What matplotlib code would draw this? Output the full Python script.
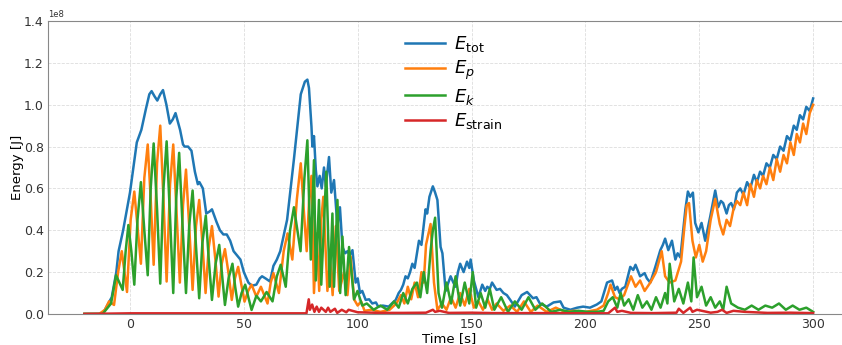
import matplotlib
matplotlib.use("Agg")
import matplotlib.pyplot as plt
import numpy as np

# (time [s], energy [1e8 J])
tot_pts = [(-20, 0), (-12, 0), (-10, 0.04), (-8, 0.08), (-6, 0.2), (-5, 0.3), (-3, 0.4), (-1, 0.52),
           (0, 0.58), (1.5, 0.7), (3, 0.82), (5, 0.88), (7, 0.98), (8.5, 1.05), (9.5, 1.065),
           (10.8, 1.04), (12, 1.02), (13.3, 1.05), (14.5, 1.07), (16, 1.0), (17.5, 0.91), (18.8, 0.93),
           (20, 0.96), (22, 0.88), (23.3, 0.81), (24, 0.80), (25.5, 0.80), (27, 0.78), (28.5, 0.68),
           (29.8, 0.62), (30.5, 0.63), (32, 0.6), (33.5, 0.48), (35, 0.49), (36, 0.5), (38, 0.44),
           (39.5, 0.40), (41, 0.38), (42.5, 0.38), (44, 0.35), (45.5, 0.3), (47, 0.28), (48.5, 0.26),
           (50, 0.2), (52, 0.15), (53.5, 0.135), (55.5, 0.14), (57, 0.17), (58, 0.18), (59.5, 0.17),
           (61.5, 0.155), (63, 0.23), (64.5, 0.26), (66, 0.3), (69, 0.45), (72, 0.74), (75, 1.05),
           (76.8, 1.11), (77.9, 1.12), (78.6, 1.08), (79.7, 0.895), (80.1, 0.80), (80.8, 0.85),
           (81.6, 0.69), (82.3, 0.61), (83.3, 0.66), (84.2, 0.60), (85.2, 0.70), (86, 0.61),
           (87.4, 0.75), (88.4, 0.58), (89.6, 0.64), (91.1, 0.42), (92.2, 0.51), (93.3, 0.32),
           (94.5, 0.29), (95.5, 0.30), (96.5, 0.28), (97.7, 0.305), (99.1, 0.15), (100, 0.17),
           (101, 0.10), (102, 0.11), (103.5, 0.067), (105, 0.07), (106.4, 0.05), (108, 0.055),
           (109, 0.035), (111, 0.04), (113.6, 0.035), (115, 0.05), (116.7, 0.067), (118, 0.1),
           (119, 0.115), (120, 0.14), (121, 0.18), (122, 0.17), (123, 0.2), (124, 0.24), (125, 0.22),
           (126.9, 0.35), (128, 0.33), (129.8, 0.50), (130.5, 0.48), (131.5, 0.56), (133, 0.61),
           (134, 0.58), (135, 0.545), (136.4, 0.32), (137.2, 0.29), (138.6, 0.11), (139.5, 0.14),
           (140.8, 0.18), (142, 0.15), (143, 0.13), (144, 0.2), (145, 0.24), (146.5, 0.2), (148, 0.25),
           (149, 0.22), (149.6, 0.26), (151, 0.16), (153, 0.08), (154.7, 0.14), (156, 0.11),
           (156.9, 0.13), (158, 0.12), (159, 0.15), (161, 0.115), (162.5, 0.12), (164, 0.10),
           (165.5, 0.09), (167, 0.067), (169, 0.035), (172, 0.09), (174.4, 0.105), (177, 0.075),
           (178.5, 0.08), (180, 0.05), (183, 0.035), (186, 0.055), (189, 0.06), (190.4, 0.03),
           (193.4, 0.02), (196.4, 0.03), (199, 0.035), (202, 0.03), (205, 0.045), (207, 0.06),
           (209.5, 0.15), (211.7, 0.16), (213, 0.115), (214, 0.13), (215, 0.10), (216, 0.12),
           (217.5, 0.13), (219.7, 0.225), (221, 0.21), (222, 0.235), (224, 0.18), (226, 0.195),
           (227, 0.17), (228.5, 0.15), (230.7, 0.225), (232.9, 0.305), (234, 0.33), (235, 0.36),
           (236.4, 0.305), (238, 0.35), (239.5, 0.26), (240.5, 0.29), (241.7, 0.27), (243.9, 0.50),
           (245, 0.585), (246, 0.56), (247.2, 0.58), (248.2, 0.435), (249.6, 0.39), (251, 0.435),
           (252.6, 0.35), (254.8, 0.465), (257, 0.59), (258.3, 0.51), (259.5, 0.54), (260.5, 0.53),
           (262, 0.48), (263, 0.52), (264, 0.53), (265.2, 0.5), (266.5, 0.58), (268, 0.60),
           (269.4, 0.57), (271, 0.63), (272.4, 0.60), (274, 0.665), (275.3, 0.63), (276.7, 0.68),
           (278, 0.66), (279.5, 0.72), (281, 0.70), (282.5, 0.76), (284, 0.74), (285.5, 0.80),
           (287, 0.78), (288.5, 0.85), (290, 0.83), (291.5, 0.90), (292.8, 0.88), (294.2, 0.95),
           (295.6, 0.93), (297, 0.99), (298.5, 0.97), (300, 1.03)]

p_pts = [(-20, 0), (-13.5, 0), (-11, 0.02), (-9.2, 0.06), (-7, 0.043), (-5.2, 0.2), (-3.6, 0.30),
         (-2.4, 0.2), (-1.3, 0.105), (0.3, 0.45), (1.9, 0.585), (3.3, 0.42), (4.8, 0.24), (6.3, 0.65),
         (7.8, 0.81), (9.1, 0.55), (10.4, 0.235), (11.9, 0.72), (13.3, 0.90), (14.7, 0.55),
         (16.1, 0.155), (17.6, 0.62), (19, 0.81), (20.4, 0.5), (21.9, 0.15), (23.3, 0.52),
         (24.6, 0.69), (26, 0.42), (27.5, 0.115), (29, 0.42), (30.4, 0.545), (31.8, 0.34),
         (33.2, 0.10), (34.6, 0.32), (36, 0.42), (37.5, 0.26), (38.9, 0.083), (40.3, 0.24),
         (41.7, 0.31), (43.2, 0.2), (44.7, 0.067), (46.1, 0.17), (47.5, 0.225), (48.9, 0.14),
         (50.3, 0.059), (51.9, 0.11), (53.4, 0.14), (55.5, 0.083), (57.5, 0.13), (60.4, 0.05),
         (61.8, 0.15), (63, 0.195), (65.4, 0.10), (67.5, 0.3), (69.2, 0.385), (71.3, 0.26),
         (73.3, 0.55), (75, 0.72), (76.3, 0.5), (77.6, 0.30), (78.7, 0.55), (79.7, 0.66), (80.8, 0.10),
         (82, 0.385), (83.1, 0.11), (84, 0.45), (84.9, 0.56), (86.7, 0.11), (87.9, 0.26), (89, 0.09),
         (90.4, 0.42), (91.9, 0.11), (94, 0.2), (95.5, 0.09), (96.9, 0.275), (98.4, 0.07),
         (100, 0.04), (101.5, 0.06), (103, 0.015), (106, 0.02), (110, 0.01), (114, 0.02), (117, 0.05),
         (119, 0.09), (120.5, 0.05), (122, 0.13), (123.5, 0.07), (125, 0.15), (126.5, 0.08),
         (128, 0.2), (129, 0.15), (130, 0.33), (131, 0.38), (132, 0.43), (133.5, 0.15), (135, 0.02),
         (137, 0.05), (139, 0.02), (141, 0.08), (143, 0.03), (145, 0.1), (147, 0.04), (149, 0.12),
         (151, 0.03), (153, 0.06), (155, 0.02), (157, 0.07), (159, 0.02), (161, 0.05), (164, 0.015),
         (167, 0.04), (170, 0.01), (173, 0.06), (176, 0.01), (179, 0.04), (183, 0.01), (187, 0.03),
         (191, 0.01), (195, 0.015), (200, 0.01), (205, 0.02), (208, 0.04), (210, 0.1), (211, 0.14),
         (213, 0.08), (215, 0.07), (217, 0.09), (219, 0.15), (220, 0.18), (222, 0.13), (224, 0.16),
         (226, 0.11), (228.5, 0.15), (231, 0.20), (233.5, 0.30), (235, 0.18), (237, 0.15),
         (239.5, 0.16), (242, 0.25), (243.5, 0.42), (244.5, 0.52), (245.5, 0.53), (247, 0.35),
         (248.5, 0.27), (250, 0.33), (251.5, 0.25), (253, 0.30), (255, 0.45), (257, 0.55),
         (259, 0.43), (260.5, 0.38), (262, 0.45), (263.5, 0.42), (265, 0.50), (266.5, 0.54),
         (268, 0.52), (269.4, 0.58), (271, 0.52), (272.4, 0.62), (274, 0.56), (275.3, 0.64),
         (276.7, 0.60), (278, 0.66), (279.5, 0.62), (281, 0.70), (282.5, 0.64), (284, 0.74),
         (285.5, 0.68), (287, 0.76), (288.5, 0.72), (290, 0.82), (291.5, 0.76), (292.8, 0.86),
         (294.2, 0.82), (295.6, 0.91), (297, 0.86), (298.5, 0.96), (300, 1.00)]

k_pts = [(-20, 0), (-12, 0), (-8.3, 0.05), (-6.1, 0.185), (-3.2, 0.115), (-1.9, 0.3), (-0.7, 0.425),
         (0.6, 0.3), (1.9, 0.14), (3.3, 0.45), (4.8, 0.63), (6.3, 0.4), (7.8, 0.185), (9.1, 0.6),
         (10.4, 0.815), (11.9, 0.5), (13.3, 0.145), (14.7, 0.6), (16.1, 0.825), (17.6, 0.46),
         (19, 0.10), (20.3, 0.55), (21.6, 0.77), (23.1, 0.42), (24.6, 0.10), (26, 0.42), (27.5, 0.59),
         (29, 0.32), (30.4, 0.075), (31.8, 0.34), (33.3, 0.47), (34.6, 0.26), (36, 0.067),
         (37.6, 0.24), (39.2, 0.33), (40.5, 0.18), (41.7, 0.043), (43.3, 0.17), (45, 0.24),
         (46.2, 0.13), (47.5, 0.035), (49, 0.1), (50.6, 0.14), (53.4, 0.019), (55.5, 0.087),
         (57.5, 0.06), (60, 0.105), (62.6, 0.06), (64.5, 0.18), (66.2, 0.235), (68.4, 0.13),
         (70.3, 0.4), (72, 0.51), (74.9, 0.30), (76.6, 0.65), (77.9, 0.83), (79.4, 0.26),
         (80.8, 0.735), (81.6, 0.16), (83, 0.545), (84, 0.14), (86.2, 0.68), (87.7, 0.13),
         (88.9, 0.48), (89.6, 0.13), (91.1, 0.545), (92.3, 0.10), (93.3, 0.37), (94.7, 0.09),
         (96.2, 0.32), (98.4, 0.07), (99.9, 0.11), (102, 0.04), (104, 0.05), (107, 0.02), (110, 0.04),
         (113, 0.02), (116, 0.06), (118, 0.03), (120, 0.1), (122, 0.05), (124, 0.12), (126, 0.15),
         (127.5, 0.08), (129, 0.2), (130.5, 0.1), (132, 0.3), (133, 0.4), (134, 0.46), (135.5, 0.1),
         (137, 0.03), (139, 0.15), (141, 0.05), (143, 0.18), (145, 0.04), (147, 0.15), (149, 0.05),
         (150.5, 0.2), (152, 0.03), (154, 0.1), (156, 0.03), (158, 0.12), (160, 0.02), (163, 0.08),
         (166, 0.01), (169, 0.06), (172, 0.02), (175, 0.08), (178, 0.02), (181, 0.05), (185, 0.01),
         (189, 0.02), (193, 0.01), (197, 0.015), (201, 0.01), (205, 0.01), (208, 0.015), (210, 0.06),
         (212, 0.08), (214, 0.03), (215.5, 0.1), (217, 0.04), (219, 0.07), (221, 0.02), (223, 0.09),
         (225, 0.03), (227, 0.06), (229, 0.02), (231, 0.08), (233, 0.03), (235, 0.1), (236, 0.05),
         (237, 0.24), (239, 0.06), (241, 0.12), (243, 0.05), (245, 0.15), (246.5, 0.06),
         (247.5, 0.27), (249, 0.08), (251, 0.13), (253, 0.04), (255, 0.08), (257, 0.03), (259, 0.06),
         (260.5, 0.02), (262, 0.13), (264, 0.05), (267, 0.03), (270, 0.02), (273, 0.04), (276, 0.02),
         (279, 0.04), (282, 0.03), (285, 0.05), (288, 0.02), (291, 0.04), (294, 0.02), (297, 0.03),
         (300, 0.01)]

strain_pts = [(-20, 0), (0, 0.003), (50, 0.003), (77.5, 0.003), (78.5, 0.07), (79, 0.02),
              (80, 0.045), (81, 0.01), (82, 0.035), (83, 0.01), (84, 0.03), (86, 0.01), (87, 0.03),
              (88, 0.01), (90, 0.025), (91, 0.005), (93, 0.02), (95, 0.008), (96, 0.02), (100, 0.008),
              (110, 0.005), (120, 0.005), (130, 0.006), (133, 0.02), (134, 0.01), (136, 0.015),
              (140, 0.005), (150, 0.006), (160, 0.004), (180, 0.004), (200, 0.003), (210, 0.003),
              (213, 0.03), (214, 0.01), (216, 0.015), (220, 0.005), (230, 0.004), (240, 0.006),
              (241, 0.025), (243, 0.005), (246, 0.03), (247, 0.01), (249, 0.02), (255, 0.006),
              (258, 0.01), (260, 0.02), (262, 0.005), (265, 0.015), (270, 0.01), (280, 0.005),
              (290, 0.006), (300, 0.004)]

labels = [r'$E_{\mathrm{tot}}$', r'$E_p$', r'$E_k$', r'$E_{\mathrm{strain}}$']
colors = ['#1f77b4', '#ff7f0e', '#2ca02c', '#d62728']

fig = plt.figure(figsize=(8.42, 3.45), dpi=100)
ax = fig.add_axes([0.057, 0.09, 0.952, 0.849])

for pts, lab, c in zip([tot_pts, p_pts, k_pts, strain_pts], labels, colors):
    t, e = zip(*pts)
    ax.plot(t, np.array(e) * 1e8, color=c, lw=1.8, label=lab, solid_joinstyle='round')

ax.set_xlim(-36, 316)
ax.set_ylim(0, 1.4e8)
ax.set_xticks([0, 50, 100, 150, 200, 250, 300])
ax.set_yticks(np.arange(0, 1.41e8, 0.2e8))
ax.grid(True, ls='--', lw=0.6, color='#dddddd')
ax.tick_params(length=0, labelsize=9, colors='#333333', pad=3)
ax.yaxis.get_offset_text().set_fontsize(6)
for s in ax.spines.values():
    s.set_color('#888888')
ax.set_xlabel('Time [s]', fontsize=9.5, labelpad=1)
ax.set_ylabel('Energy [J]', fontsize=9.5, labelpad=0)
ax.legend(loc='upper left', bbox_to_anchor=(0.425, 1.01), frameon=False, fontsize=13,
          handlelength=2.2, handletextpad=0.5, labelspacing=0.25)

fig.savefig('out.png', dpi=100)
